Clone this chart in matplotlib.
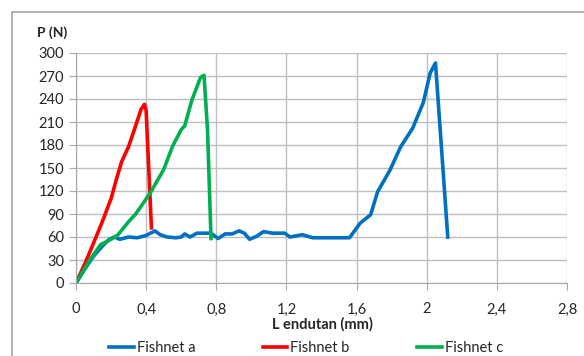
import matplotlib
matplotlib.use('Agg')
import matplotlib.pyplot as plt
from matplotlib.lines import Line2D

plt.rcParams['font.family'] = ['Lato', 'DejaVu Sans']

# Fishnet a
xa = [0, 0.05, 0.1, 0.15, 0.19, 0.22, 0.25, 0.3, 0.35, 0.4, 0.45, 0.48, 0.52, 0.57, 0.6,
      0.62, 0.65, 0.69, 0.73, 0.77, 0.81, 0.85, 0.89, 0.93, 0.96, 0.99, 1.03, 1.07, 1.12,
      1.19, 1.22, 1.29, 1.35, 1.45, 1.56, 1.62, 1.68, 1.72, 1.79, 1.85, 1.92, 1.98, 2.02,
      2.05, 2.12]
ya = [0, 18, 35, 48, 57, 60, 57, 60, 59, 62, 68, 63, 60, 59, 60,
      64, 60, 65, 65, 65, 58, 64, 64, 68, 65, 57, 61, 67, 65,
      65, 60, 63, 59, 59, 59, 78, 89, 119, 147, 177, 202, 235, 274,
      287, 60]

# Fishnet b
xb = [0, 0.05, 0.1, 0.15, 0.2, 0.23, 0.26, 0.3, 0.34, 0.37, 0.39, 0.40, 0.43]
yb = [0, 25, 52, 80, 110, 135, 158, 178, 205, 226, 233, 225, 72]

# Fishnet c
xc = [0, 0.07, 0.14, 0.2, 0.24, 0.3, 0.34, 0.38, 0.43, 0.5, 0.55, 0.6, 0.62, 0.66,
      0.71, 0.73, 0.75, 0.77]
yc = [0, 27, 50, 57, 63, 80, 90, 103, 120, 148, 178, 200, 205, 238,
      268, 271, 200, 58]

xticks = [0, 0.4, 0.8, 1.2, 1.6, 2.0, 2.4, 2.8]
xticklabels = ['0', '0,4', '0,8', '1,2', '1,6', '2', '2,4', '2,8']
yticks = list(range(0, 301, 30))

fig = plt.figure(figsize=(5.84, 3.56), dpi=100)
ax = fig.add_axes([76 / 584, 1 - 283 / 356, 491 / 584, 230 / 356])

# outer chart frame (only left and top visible)
fig.add_artist(Line2D([12 / 584, 12 / 584], [0, 1 - 12 / 356], transform=fig.transFigure,
                      color='#a6a6a6', lw=1.2))
fig.add_artist(Line2D([12 / 584, 1], [1 - 12 / 356, 1 - 12 / 356], transform=fig.transFigure,
                      color='#a6a6a6', lw=1.2))

ax.plot(xa, ya, color='#0070C0', lw=2.6, label='Fishnet a', solid_joinstyle='round')
ax.plot(xb, yb, color='#FF0000', lw=2.6, label='Fishnet b', solid_joinstyle='round')
ax.plot(xc, yc, color='#00B050', lw=2.6, label='Fishnet c', solid_joinstyle='round')

ax.set_xlim(0, 2.8)
ax.set_ylim(0, 300)
ax.set_xticks(xticks)
ax.set_xticklabels(xticklabels)
ax.set_yticks(yticks)
ax.grid(True, color='#bfbfbf', lw=1.0)
ax.set_axisbelow(True)
for s in ['top', 'right']:
    ax.spines[s].set_visible(False)
for s in ['left', 'bottom']:
    ax.spines[s].set_color('#a6a6a6')
ax.tick_params(axis='both', colors='#a6a6a6', labelcolor='#262626', labelsize=10.5, length=5)
ax.tick_params(axis='x', pad=9)

fig.text(37 / 584, 1 - 33 / 356, 'P (N)', fontsize=10, fontweight='bold', color='#262626',
         va='center', ha='left')
fig.text(322 / 584, 1 - 324 / 356, 'L endutan (mm)', fontsize=10.5, fontweight='bold',
         color='#262626', va='center', ha='center')

leg = fig.legend(loc='center', bbox_to_anchor=(306 / 584, 1 - 348 / 356), ncol=3, frameon=False,
                 fontsize=10.5, handlelength=1.7, handletextpad=0.2, columnspacing=4.6)
for t in leg.get_texts():
    t.set_color('#262626')

fig.savefig('out.png', dpi=100)
